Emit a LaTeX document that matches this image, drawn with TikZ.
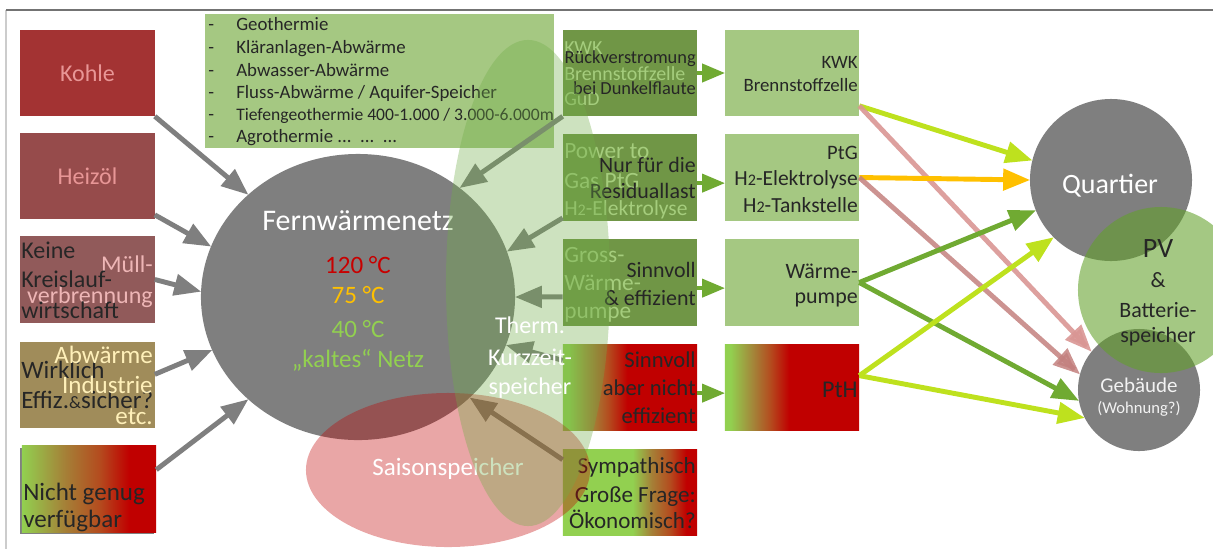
\documentclass[tikz,border=0pt]{standalone}
\usepackage{fontspec}
\setmainfont{Carlito}
\usepackage{tikz}
\usetikzlibrary{arrows,shapes.geometric}

\definecolor{kohlered}{RGB}{163,51,51}
\definecolor{oelred}{RGB}{150,75,75}
\definecolor{muellred}{RGB}{145,90,90}
\definecolor{abwbrown}{RGB}{160,140,90}
\definecolor{lightgreen}{RGB}{165,200,130}
\definecolor{midgreen}{RGB}{112,150,70}
\definecolor{freshgreen}{RGB}{146,208,80}
\definecolor{accgreen}{RGB}{112,173,71}
\definecolor{pvgreen}{RGB}{98,161,42}
\definecolor{darkred}{RGB}{192,0,0}
\definecolor{olivebrown}{RGB}{165,128,55}
\definecolor{rustbrown}{RGB}{180,75,30}
\definecolor{netgray}{RGB}{127,127,127}
\definecolor{txtdark}{RGB}{38,38,38}
\definecolor{txtpink}{RGB}{232,150,150}
\definecolor{txtrose}{RGB}{238,182,182}
\definecolor{txtcream}{RGB}{255,240,185}
\definecolor{txtfaint}{RGB}{165,205,125}
\definecolor{arrowgreen}{RGB}{112,170,50}
\definecolor{limegreen}{RGB}{190,225,30}
\definecolor{amber}{RGB}{255,192,0}
\definecolor{rosearrow}{RGB}{217,150,148}
\definecolor{duskrose}{RGB}{195,128,126}
\definecolor{tempred}{RGB}{200,0,0}

% horizontal shadings (25bp = left edge, 75bp = right edge)
\pgfdeclarehorizontalshading{ngshade}{100bp}{color(0bp)=(freshgreen); color(25bp)=(freshgreen); color(41bp)=(olivebrown); color(54bp)=(rustbrown); color(65bp)=(darkred); color(100bp)=(darkred)}
\pgfdeclarehorizontalshading{pthshade}{100bp}{color(0bp)=(freshgreen); color(27bp)=(freshgreen); color(36bp)=(olivebrown); color(42bp)=(rustbrown); color(49bp)=(darkred); color(100bp)=(darkred)}
\pgfdeclarehorizontalshading{symshade}{100bp}{color(0bp)=(freshgreen); color(51bp)=(freshgreen); color(58bp)=(olivebrown); color(65bp)=(rustbrown); color(71bp)=(darkred); color(100bp)=(darkred)}

\newcommand{\fs}[1]{\fontsize{#1}{#1}\selectfont}
\newcommand{\Hzwei}{H\scalebox{0.75}{2}}

\tikzset{
  box/.style={rectangle,inner sep=0pt,minimum width=3.35cm,minimum height=2.15cm},
  txt/.style={inner sep=0pt,text=txtdark},
  garrow/.style={->,line width=3.5pt,color=netgray},
  marrow/.style={->,line width=2.8pt,color=arrowgreen},
  rarrow/.style={->,line width=3.5pt}
}

\begin{document}
\begin{tikzpicture}[x=0.025cm,y=-0.025cm,>=triangle 45,line join=round]
	\useasboundingbox (0,0) rectangle (1213,549);
	\clip (0,0) rectangle (1213,549);
	\draw[color=black!20,line width=1pt] (6,10) -- (6,549);
	\draw[color=black!55,line width=1.2pt] (6,10) -- (1213,10);

	% left column
	\node[box,fill=kohlered,text=txtpink,font=\fs{17.1}] (kohle) at (87.5,73) {Kohle};
	\node[box,fill=oelred,text=txtpink,font=\fs{17.1}] (heizoel) at (87.5,176) {Heizöl};
	\node[box,fill=muellred] (muell) at (87.5,279.5) {};
	\foreach \y/\t in {272/Müll-,303/verbrennung}
	\node[txt,text=txtrose,font=\fs{17.1},anchor=base east] (muell-b\y) at (153,\y) {\t};
	\foreach \y/\t in {258/Keine,287/Kreislauf-,318/wirtschaft}
	\node[txt,font=\fs{17.1},anchor=base west] (muell-a\y) at (21,\y) {\t};
	\node[box,fill=abwbrown] (abw) at (87.5,385) {};
	\node[txt,font=\fs{17.8},anchor=base west] (abw-a1) at (21,378) {Wirklich};
	\node[txt,font=\fs{17.8},anchor=base west] (abw-a2) at (21,408) {Effiz.\scalebox{0.7}{\&}sicher?};
	\foreach \y/\t in {363/Abwärme,393/Industrie,424/etc.}
	\node[txt,text=txtcream,font=\fs{17.8},anchor=base east] (abw-b\y) at (153,\y) {\t};
	\fill[color=black!50] (20,448) rectangle (154,534);
	\node[box,shade,shading=ngshade] (ng) at (89,489) {};
	\foreach \y/\t in {500/Nicht genug,527/verfügbar}
	\node[txt,font=\fs{17.8},anchor=base west] (ng-\y) at (23,\y) {\t};

	% sources list
	\node[rectangle,inner sep=0pt,fill=lightgreen,minimum width=8.725cm,minimum height=3.35cm] (quellen) at (379.5,81) {};
	\foreach \y/\t in {30/Geothermie,53/Kläranlagen-Abwärme,76/Abwasser-Abwärme,98/{Fluss-Abwärme / Aquifer-Speicher},120/{\fs{12.5}Tiefengeothermie 400-1.000 / 3.000-6.000m},142/{Agrothermie ...\ \ ...\ \ ...}}
	{
	\node[txt,font=\fs{13.4},anchor=base west] (dash-\y) at (208,\y) {-};
	\node[txt,font=\fs{13.4},anchor=base west] (quelle-\y) at (236,\y) {\t};
	}

	% middle column
	\node[box,fill=midgreen] (m1) at (630,73) {};
	\foreach \y/\t in {54/KWK,80/Brennstoffzelle,105/GuD}
	\node[txt,text=txtfaint,font=\fs{14.2},anchor=base west] (m1-f\y) at (564,\y) {\t};
	\foreach \y/\t in {63/Rückverstromung,94/bei Dunkelflaute}
	\node[txt,font=\fs{13.1},anchor=base east] (m1-d\y) at (696,\y) {\t};
	\node[box,fill=midgreen] (m2) at (630,177.5) {};
	\foreach \y/\t in {158/Power to,188/Gas PtG,215/{\fs{15.3}\Hzwei-Elektrolyse}}
	\node[txt,text=txtfaint,font=\fs{16.6},anchor=base west] (m2-f\y) at (564,\y) {\t};
	\foreach \y/\t in {172/Nur für die,198/Residuallast}
	\node[txt,font=\fs{15.6},anchor=base east] (m2-d\y) at (696,\y) {\t};
	\node[box,fill=midgreen] (m3) at (630,282.5) {};
	\foreach \y/\t in {262/Gross-,290/Wärme-,318/pumpe}
	\node[txt,text=txtfaint,font=\fs{16.6},anchor=base west] (m3-f\y) at (564,\y) {\t};
	\foreach \y/\t in {277/Sinnvoll,305/\& effizient}
	\node[txt,font=\fs{15.6},anchor=base east] (m3-d\y) at (696,\y) {\t};
	\node[box,shade,shading=pthshade] (m4) at (630,387.5) {};
	\foreach \y/\t in {367/Sinnvoll,395/aber nicht,423/effizient}
	\node[txt,font=\fs{16.1},anchor=base east] (m4-d\y) at (696,\y) {\t};
	\node[box,shade,shading=symshade] (m5) at (630,492.5) {};
	\foreach \y/\t in {473/Sympathisch,502/Große Frage:,528/Ökonomisch?}
	\node[txt,font=\fs{16.4},anchor=base east] (m5-d\y) at (696,\y) {\t};

	% right column
	\node[box,fill=lightgreen] (r1) at (792,73) {};
	\foreach \y/\t in {68/KWK,91/Brennstoffzelle}
	\node[txt,font=\fs{13.4},anchor=base east] (r1-\y) at (858,\y) {\t};
	\node[box,fill=lightgreen] (r2) at (792,177.5) {};
	\foreach \y/\t in {159/PtG,185/{\fs{15.3}\Hzwei-Elektrolyse},212/{\fs{15.3}\Hzwei-Tankstelle}}
	\node[txt,font=\fs{14.6},anchor=base east] (r2-\y) at (858,\y) {\t};
	\node[box,fill=lightgreen] (r3) at (792,282.5) {};
	\foreach \y/\t in {278/Wärme-,303/pumpe}
	\node[txt,font=\fs{15.6},anchor=base east] (r3-\y) at (858,\y) {\t};
	\node[box,shade,shading=pthshade] (r4) at (792,387.5) {};
	\node[txt,font=\fs{17.1},anchor=base east] (r4-t) at (858,397) {PtH};

	% Fernwaermenetz
	\node[ellipse,fill=netgray,inner sep=0pt,minimum width=7.85cm,minimum height=7.15cm] (fw) at (358,297) {};
	\node[txt,text=white,font=\fs{21.3},anchor=base] (fw-name) at (358,230) {Fernwärmenetz};
	\node[txt,text=tempred,font=\fs{17.8},anchor=base] (fw-120) at (358,273) {120 °C};
	\node[txt,text=amber,font=\fs{17.8},anchor=base] (fw-75) at (358,303) {75 °C};
	\node[txt,text=freshgreen,font=\fs{17.8},anchor=base] (fw-40) at (358,337) {40 °C};
	\node[txt,text=freshgreen,font=\fs{17.8},anchor=base] (fw-kalt) at (358,367) {„kaltes“ Netz};

	\draw[garrow] (kohle.south east) -- (fw.137);
	\draw[garrow] (heizoel.-30) -- (fw.161);
	\draw[garrow] (muell.east) -- (fw.178);
	\draw[garrow] (abw.9) -- (fw.200);
	\draw[garrow] (ng.16) -- (fw.223);
	\draw[garrow] (m1.south west) -- (fw.47);
	\draw[garrow] (m2.211) -- (fw.17.5);
	\draw[garrow] (m3.192) -- (fw.0);
	\draw[garrow] (m4.158) -- (fw.342);
	\draw[garrow] (m5.154) -- (fw.318);

	% Speicher
	\fill[color=darkred,opacity=0.35] (448,470) ellipse [x radius=3.55cm,y radius=1.925cm];
	\node[txt,text=white,font=\fs{17.8},anchor=base] (saison) at (448,475) {Saisonspeicher};
	\fill[color=accgreen,opacity=0.35] (528,283) ellipse [x radius=2.05cm,y radius=6.075cm];
	\foreach \y/\t in {333/Therm.,365/Kurzzeit-,394/speicher}
	\node[txt,text=white,font=\fs{17.1},anchor=base] (kurz-\y) at (530,\y) {\t};

	\draw[marrow] (m1.east) -- (r1.west);
	\draw[marrow] ([yshift=-4pt]m2.east) -- ([yshift=-4pt]r2.west);
	\draw[marrow] ([yshift=-4pt]m3.east) -- ([yshift=-4pt]r3.west);
	\draw[marrow] ([yshift=-4pt]m4.east) -- ([yshift=-4pt]r4.west);

	% Quartier, Gebaeude, PV
	\node[circle,fill=netgray,inner sep=0pt,minimum size=4.05cm] (quartier) at (1111,180) {};
	\node[circle,fill=netgray,inner sep=0pt,minimum size=3.05cm] (geb) at (1139,390) {};
	\node[circle,fill=pvgreen,fill opacity=0.58,inner sep=0pt,minimum size=4.15cm] (pv) at (1161,290) {};
	\node[txt,text=white,font=\fs{19.9},anchor=base] (quartier-t) at (1110,193) {Quartier};
	\node[txt,text=black!5,font=\fs{14.9},anchor=base] (geb-t) at (1139,392) {Gebäude};
	\node[txt,text=black!5,font=\fs{11.8},anchor=base] (geb-w) at (1139,413) {(Wohnung?)};
	\node[txt,font=\fs{19.9},anchor=base] (pv-t) at (1158,257) {PV};
	\foreach \y/\t in {287/\&,317/Batterie-,342/speicher}
	\node[txt,font=\fs{15.6},anchor=base] (pv-\y) at (1158,\y) {\t};

	\draw[rarrow,color=limegreen] (r1.-26) -- (quartier.166);
	\draw[rarrow,color=rosearrow,opacity=0.9] (r1.-26) -- (geb.141);
	\draw[rarrow,color=amber] (r2.east) -- (quartier.180);
	\draw[rarrow,color=duskrose,opacity=0.85] (r2.east) -- (geb.165);
	\draw[rarrow,color=arrowgreen] (r3.east) -- (quartier.202);
	\draw[rarrow,color=arrowgreen] (r3.east) -- (geb.190);
	\draw[rarrow,color=limegreen] (r4.10) -- (quartier.225);
	\draw[rarrow,color=limegreen] (r4.10) -- (geb.207);
\end{tikzpicture}
\end{document}
